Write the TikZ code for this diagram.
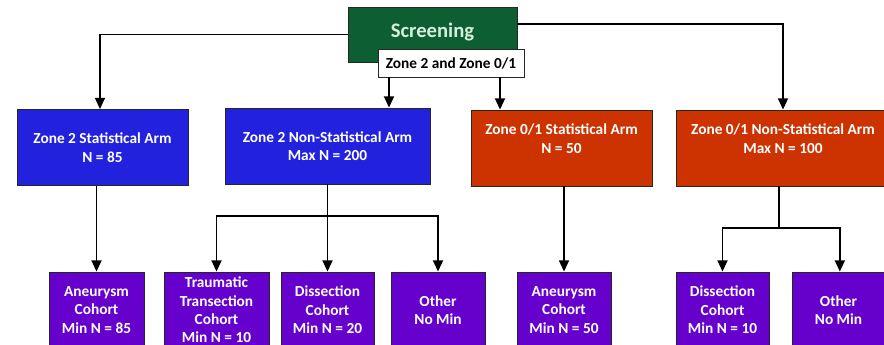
\documentclass[tikz,border=0pt]{standalone}
\usepackage{fontspec}
\setmainfont{Carlito}
\usetikzlibrary{arrows.meta}

\definecolor{screengreen}{RGB}{14,94,52}
\definecolor{screentext}{RGB}{216,238,220}
\definecolor{zoneblue}{RGB}{34,34,222}
\definecolor{zonered}{RGB}{204,51,0}
\definecolor{cohortpurple}{RGB}{102,0,204}

\begin{document}
\begin{tikzpicture}[x=0.75pt,y=-0.75pt,
  box/.style={draw=black!85,line width=0.6pt,text=white,align=center,inner sep=0pt,
    font=\bfseries\fontsize{11.5}{13.8}\selectfont},
  bluearm/.style={box,fill=zoneblue,minimum height=57pt},
  redarm/.style={box,fill=zonered,minimum height=57pt},
  cohort/.style={box,fill=cohortpurple,minimum height=57pt},
  arr/.style={line width=1.35pt,-{Triangle[length=8.5pt,width=7.5pt]}}]
\clip (0,0) rectangle (884,344);

%screening
\node[box,fill=screengreen,minimum width=126.75pt,minimum height=41.25pt] (screen) at (432.5,34.5) {};
\node[text=screentext,font=\bfseries\fontsize{15.5}{18}\selectfont] (screentitle) at (432.5,32) {Screening};
\node[box,fill=white,text=black,minimum width=109.5pt,minimum height=21pt] (zones) at (451,63) {Zone 2 and Zone 0/1};

%arms
\node[bluearm,minimum width=128.25pt] (z2stat) at (102.5,147.5) {Zone 2 Statistical Arm\\N = 85};
\node[bluearm,minimum width=153.75pt] (z2non) at (327.5,146) {Zone 2 Non-Statistical Arm\\Max N = 200};
\node[redarm,minimum width=135.75pt] (z01stat) at (561.5,148) {Zone 0/1 Statistical Arm\\N = 50\\~};
\node[redarm,minimum width=160.5pt] (z01non) at (783,148) {Zone 0/1 Non-Statistical Arm\\Max N = 100\\~};

%cohorts
\node[cohort,minimum width=71.25pt] (aneur1) at (96.5,310) {Aneurysm\\Cohort\\Min N = 85};
\node[cohort,minimum width=78.75pt] (traum) at (216.5,310) {Traumatic\\Transection\\Cohort\\Min N = 10};
\node[cohort,minimum width=69.75pt] (dissec1) at (327.5,310) {Dissection\\Cohort\\Min N = 20};
\node[cohort,minimum width=70.5pt] (other1) at (438,310) {Other\\No Min};
\node[cohort,minimum width=70.5pt] (aneur2) at (564,310) {Aneurysm\\Cohort\\Min N = 50};
\node[cohort,minimum width=69.75pt] (dissec2) at (722.5,310) {Dissection\\Cohort\\Min N = 10};
\node[cohort,minimum width=69.75pt] (other2) at (838.5,310) {Other\\No Min};

%screening to arms
\draw[arr] (screen.west) -| ([xshift=-1.9pt]z2stat.north);
\draw[arr] ([yshift=7.9pt]screen.east) -| (z01non.north);
\draw[arr] ([xshift=-46.5pt]zones.south) -- ([xshift=-46.5pt]zones.south |- z2non.north);
\draw[arr] ([xshift=36.75pt]zones.south) -- ([xshift=36.75pt]zones.south |- z01stat.north);

%arms to cohorts
\draw[arr] (z2stat.south -| aneur1.north) -- (aneur1.north);
\coordinate (b1) at (z2non.south |- 0,216);
\draw[arr] (z2non.south) -- (dissec1.north);
\draw[arr] (b1) -| (traum.north);
\draw[arr] (b1) -| (other1.north);
\draw[arr] (z01stat.south -| aneur2.north) -- (aneur2.north);
\coordinate (b2) at ([xshift=-3pt]z01non.south |- 0,228);
\draw[line width=1.35pt] ([xshift=-3pt]z01non.south) -- (b2);
\draw[arr] (b2) -| (dissec2.north);
\draw[arr] (b2) -| ([xshift=1pt]other2.north);
\end{tikzpicture}
\end{document}
